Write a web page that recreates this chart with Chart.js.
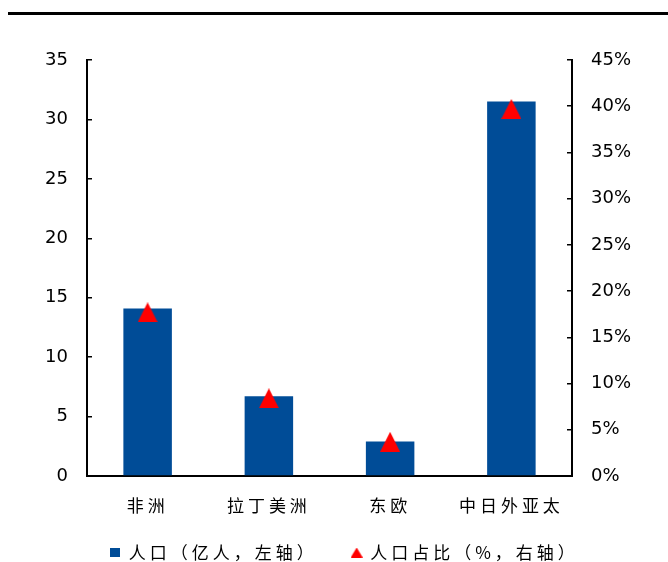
<!DOCTYPE html>
<html lang="zh">
<head>
<meta charset="UTF-8" />
<title>人口</title>
<script src="https://cdn.jsdelivr.net/npm/chart.js"></script>
<style>
body { margin: 0; background: #fff; }
#wrap { position: relative; width: 668px; height: 562px; }
#topline { position: absolute; left: 8px; top: 12px; width: 660px; height: 3px; background: #000; }
canvas { position: absolute; left: 0; top: 0; }
</style>
</head>
<body>
<div id="wrap">
  <div id="topline"></div>
  <canvas id="myChart" width="668" height="562"></canvas>
</div>
<script>
// 数据
const regions = ['非洲', '拉丁美洲', '东欧', '中日外亚太'];
const population = [14.1, 6.7, 2.9, 31.5];      // 亿人，左轴
const popShare = [17.7, 8.4, 3.7, 39.7];        // %，右轴
const legendNames = ['人口（亿人，左轴）', '人口占比（%，右轴）'];

const BLUE = '#004C97';
const RED = '#FF0000';
const CJK = "'Noto Sans CJK SC', sans-serif";

function makeTriangle(w, h) {
  const c = document.createElement('canvas'); c.width = w; c.height = h;
  const g = c.getContext('2d'); g.fillStyle = RED;
  g.beginPath(); g.moveTo(w / 2, 0); g.lineTo(w, h); g.lineTo(0, h); g.closePath(); g.fill();
  return c;
}
function makeSquare(w, h) {
  const c = document.createElement('canvas'); c.width = w; c.height = h;
  const g = c.getContext('2d'); g.fillStyle = BLUE; g.fillRect(0, 0, w, h);
  return c;
}
const triMark = makeTriangle(20, 20);
const triLegend = makeTriangle(12, 10);
const sqLegend = makeSquare(10, 9);

// 中文标签加字距
function withSpacing(obj, name, after) {
  const orig = obj[name];
  obj[name] = function () {
    const ctx = this.ctx;
    ctx.save(); ctx.letterSpacing = '4px';
    const r = orig.apply(this, arguments);
    ctx.restore();
    if (after) after.call(this);
    return r;
  };
}
const spacedText = {
  id: 'spacedText',
  beforeLayout(chart) {
    const x = chart.scales.x;
    if (x && !x._spaced) {
      withSpacing(x, 'drawLabels');
      x._computeLabelArea = function () { return undefined; }; // 不裁剪标签
      x._spaced = true;
    }
    const lg = chart.legend;
    if (lg && !lg._spaced) {
      withSpacing(lg, 'fit', function () { this.height = 52; });
      withSpacing(lg, 'draw');
      lg._spaced = true;
    }
  }
};

Chart.defaults.font.family = "'DejaVu Sans', sans-serif";
Chart.defaults.color = '#000';

new Chart(document.getElementById('myChart'), {
  data: {
    labels: regions,
    datasets: [
      { type: 'line', label: legendNames[1], data: popShare, yAxisID: 'y1', order: 0,
        showLine: false, pointStyle: triMark, pointRadius: 10 },
      { type: 'bar', label: legendNames[0], data: population, yAxisID: 'y', order: 1,
        backgroundColor: BLUE, borderWidth: 0, barPercentage: 0.4, categoryPercentage: 1 }
    ]
  },
  options: {
    responsive: false,
    animation: false,
    layout: { padding: { top: 60, left: 21, right: 0, bottom: 0 } },
    plugins: {
      tooltip: { enabled: false },
      legend: {
        position: 'bottom',
        labels: {
          usePointStyle: true, boxWidth: 10, boxHeight: 10, padding: 34,
          font: { family: CJK, size: 17 }, color: '#000',
          generateLabels: () => [
            { text: legendNames[0], pointStyle: sqLegend, fillStyle: BLUE, lineWidth: 0, hidden: false, datasetIndex: 1 },
            { text: legendNames[1], pointStyle: triLegend, fillStyle: RED, lineWidth: 0, hidden: false, datasetIndex: 0 }
          ]
        }
      }
    },
    scales: {
      x: {
        grid: { display: false },
        border: { display: true, color: '#000', width: 2 },
        ticks: { font: { family: CJK, size: 17 }, padding: 11, maxRotation: 0, autoSkip: false },
        afterFit(s) { s.height = 34; }
      },
      y: {
        position: 'left', min: 0, max: 35,
        grid: { drawOnChartArea: false, tickLength: -5, color: '#000', lineWidth: 1.5 },
        border: { color: '#000', width: 2 },
        ticks: { stepSize: 5, padding: 24, font: { size: 18 } },
        afterFit(s) { s.width = 66; }
      },
      y1: {
        position: 'right', min: 0, max: 45,
        grid: { drawOnChartArea: false, tickLength: -5, color: '#000', lineWidth: 1.5 },
        border: { color: '#000', width: 2 },
        ticks: { stepSize: 5, padding: 24, font: { size: 18 }, callback: v => v + '%' },
        afterFit(s) { s.width = 96; }
      }
    }
  },
  plugins: [spacedText]
});
</script>
</body>
</html>
